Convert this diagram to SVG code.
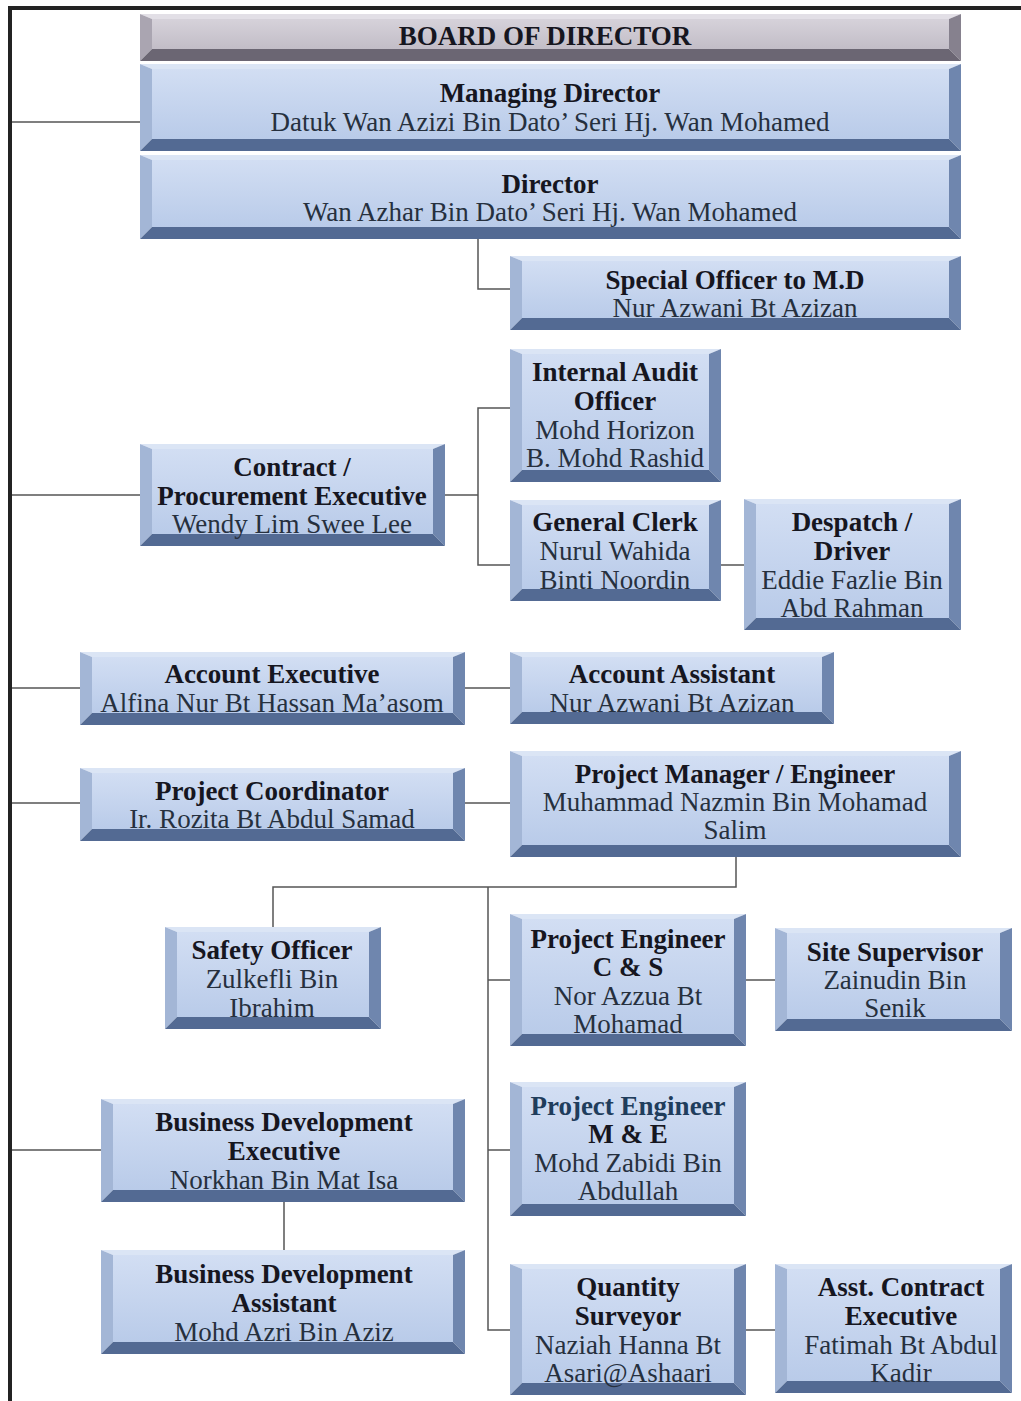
<svg xmlns="http://www.w3.org/2000/svg" width="1021" height="1401" viewBox="0 0 1021 1401">
<defs>
<linearGradient id="face" x1="0" y1="0" x2="0" y2="1">
<stop offset="0" stop-color="#d2def3"/><stop offset="1" stop-color="#b9cbe9"/>
</linearGradient>
<linearGradient id="gface" x1="0" y1="0" x2="0" y2="1">
<stop offset="0" stop-color="#d6d2da"/><stop offset="1" stop-color="#c2bdc7"/>
</linearGradient>
</defs>
<style>
.f{fill:url(#face)}
.t{fill:#dbe5f5}
.l{fill:#a3b6d6}
.r{fill:#6f86ae}
.b{fill:#536a93}
.gray .f{fill:url(#gface)}
.gray .t{fill:#e2dfe6}
.gray .l{fill:#aaa5b1}
.gray .r{fill:#86818e}
.gray .b{fill:#6b6673}
text{font-family:"Liberation Serif","Times New Roman",serif;font-size:27px;text-anchor:middle;fill:#26303e}
.h{font-weight:bold;fill:#16161f}
.h2{font-weight:bold;fill:#1f3d5c}
.conn{stroke:#555;stroke-width:1.5;fill:none}
.frame{stroke:#232323;stroke-width:4;fill:none}
</style>
<rect width="1021" height="1401" fill="#fff"/>
<path class="frame" d="M10,1401 V8 H1021"/>
<g id="connectors" class="conn">
<path d="M12,122 H140"/>
<path d="M478,239 V289 H510"/>
<path d="M12,495 H140"/>
<path d="M445,495 H478"/>
<path d="M510,408 H478 V565 H510"/>
<path d="M721,565 H744"/>
<path d="M12,688 H80"/>
<path d="M465,688 H510"/>
<path d="M12,803 H80"/>
<path d="M465,803 H510"/>
<path d="M736,857 V887 H273 V927"/>
<path d="M488,887 V1330 H510"/>
<path d="M488,980 H510"/>
<path d="M746,980 H775"/>
<path d="M488,1150 H510"/>
<path d="M746,1330 H775"/>
<path d="M12,1150 H101"/>
<path d="M284,1202 V1250"/>
</g>
<g id="board" class="gray">
<polygon class="t" points="140,14 961,14 949,19 152,19"/><polygon class="l" points="140,14 152,19 152,49 140,61"/><polygon class="r" points="961,14 961,61 949,49 949,19"/><polygon class="b" points="140,61 152,49 949,49 961,61"/><rect class="f" x="152" y="19" width="797" height="30"/>
<text class="h" x="545" y="45" font-size="24.5">BOARD OF DIRECTOR</text>
</g>
<g id="md">
<polygon class="t" points="140,64 961,64 949,69 152,69"/><polygon class="l" points="140,64 152,69 152,139 140,151"/><polygon class="r" points="961,64 961,151 949,139 949,69"/><polygon class="b" points="140,151 152,139 949,139 961,151"/><rect class="f" x="152" y="69" width="797" height="70"/>
<text class="h" x="550" y="102">Managing Director</text>
<text x="550" y="131">Datuk Wan Azizi Bin Dato’ Seri Hj. Wan Mohamed</text>
</g>
<g id="director">
<polygon class="t" points="140,155 961,155 949,160 152,160"/><polygon class="l" points="140,155 152,160 152,227 140,239"/><polygon class="r" points="961,155 961,239 949,227 949,160"/><polygon class="b" points="140,239 152,227 949,227 961,239"/><rect class="f" x="152" y="160" width="797" height="67"/>
<text class="h" x="550" y="193">Director</text>
<text x="550" y="221">Wan Azhar Bin Dato’ Seri Hj. Wan Mohamed</text>
</g>
<g id="special-officer">
<polygon class="t" points="510,256 961,256 949,261 522,261"/><polygon class="l" points="510,256 522,261 522,318 510,330"/><polygon class="r" points="961,256 961,330 949,318 949,261"/><polygon class="b" points="510,330 522,318 949,318 961,330"/><rect class="f" x="522" y="261" width="427" height="57"/>
<text class="h" x="735" y="289">Special Officer to M.D</text>
<text x="735" y="317">Nur Azwani Bt Azizan</text>
</g>
<g id="internal-audit">
<polygon class="t" points="510,349 721,349 709,354 522,354"/><polygon class="l" points="510,349 522,354 522,470 510,482"/><polygon class="r" points="721,349 721,482 709,470 709,354"/><polygon class="b" points="510,482 522,470 709,470 721,482"/><rect class="f" x="522" y="354" width="187" height="116"/>
<text class="h" x="615" y="381">Internal Audit</text>
<text class="h" x="615" y="410">Officer</text>
<text x="615" y="439">Mohd Horizon</text>
<text x="615" y="467">B. Mohd Rashid</text>
</g>
<g id="contract-procurement">
<polygon class="t" points="140,444 445,444 433,449 152,449"/><polygon class="l" points="140,444 152,449 152,534 140,546"/><polygon class="r" points="445,444 445,546 433,534 433,449"/><polygon class="b" points="140,546 152,534 433,534 445,546"/><rect class="f" x="152" y="449" width="281" height="85"/>
<text class="h" x="292" y="476">Contract /</text>
<text class="h" x="292" y="505">Procurement Executive</text>
<text x="292" y="533">Wendy Lim Swee Lee</text>
</g>
<g id="general-clerk">
<polygon class="t" points="510,500 721,500 709,505 522,505"/><polygon class="l" points="510,500 522,505 522,589 510,601"/><polygon class="r" points="721,500 721,601 709,589 709,505"/><polygon class="b" points="510,601 522,589 709,589 721,601"/><rect class="f" x="522" y="505" width="187" height="84"/>
<text class="h" x="615" y="531">General Clerk</text>
<text x="615" y="560">Nurul Wahida</text>
<text x="615" y="589">Binti Noordin</text>
</g>
<g id="despatch-driver">
<polygon class="t" points="744,499 961,499 949,504 756,504"/><polygon class="l" points="744,499 756,504 756,618 744,630"/><polygon class="r" points="961,499 961,630 949,618 949,504"/><polygon class="b" points="744,630 756,618 949,618 961,630"/><rect class="f" x="756" y="504" width="193" height="114"/>
<text class="h" x="852" y="531">Despatch /</text>
<text class="h" x="852" y="560">Driver</text>
<text x="852" y="589">Eddie Fazlie Bin</text>
<text x="852" y="617">Abd Rahman</text>
</g>
<g id="account-executive">
<polygon class="t" points="80,652 465,652 453,657 92,657"/><polygon class="l" points="80,652 92,657 92,713 80,725"/><polygon class="r" points="465,652 465,725 453,713 453,657"/><polygon class="b" points="80,725 92,713 453,713 465,725"/><rect class="f" x="92" y="657" width="361" height="56"/>
<text class="h" x="272" y="683">Account Executive</text>
<text x="272" y="712">Alfina Nur Bt Hassan Ma’asom</text>
</g>
<g id="account-assistant">
<polygon class="t" points="510,652 834,652 822,657 522,657"/><polygon class="l" points="510,652 522,657 522,712 510,724"/><polygon class="r" points="834,652 834,724 822,712 822,657"/><polygon class="b" points="510,724 522,712 822,712 834,724"/><rect class="f" x="522" y="657" width="300" height="55"/>
<text class="h" x="672" y="683">Account Assistant</text>
<text x="672" y="712">Nur Azwani Bt Azizan</text>
</g>
<g id="project-coordinator">
<polygon class="t" points="80,768 465,768 453,773 92,773"/><polygon class="l" points="80,768 92,773 92,829 80,841"/><polygon class="r" points="465,768 465,841 453,829 453,773"/><polygon class="b" points="80,841 92,829 453,829 465,841"/><rect class="f" x="92" y="773" width="361" height="56"/>
<text class="h" x="272" y="800">Project Coordinator</text>
<text x="272" y="828">Ir. Rozita Bt Abdul Samad</text>
</g>
<g id="project-manager">
<polygon class="t" points="510,751 961,751 949,756 522,756"/><polygon class="l" points="510,751 522,756 522,845 510,857"/><polygon class="r" points="961,751 961,857 949,845 949,756"/><polygon class="b" points="510,857 522,845 949,845 961,857"/><rect class="f" x="522" y="756" width="427" height="89"/>
<text class="h" x="735" y="783">Project Manager / Engineer</text>
<text x="735" y="811">Muhammad Nazmin Bin Mohamad</text>
<text x="735" y="839">Salim</text>
</g>
<g id="safety-officer">
<polygon class="t" points="165,927 381,927 369,932 177,932"/><polygon class="l" points="165,927 177,932 177,1017 165,1029"/><polygon class="r" points="381,927 381,1029 369,1017 369,932"/><polygon class="b" points="165,1029 177,1017 369,1017 381,1029"/><rect class="f" x="177" y="932" width="192" height="85"/>
<text class="h" x="272" y="959">Safety Officer</text>
<text x="272" y="988">Zulkefli  Bin</text>
<text x="272" y="1017">Ibrahim</text>
</g>
<g id="project-engineer-cs">
<polygon class="t" points="510,914 746,914 734,919 522,919"/><polygon class="l" points="510,914 522,919 522,1034 510,1046"/><polygon class="r" points="746,914 746,1046 734,1034 734,919"/><polygon class="b" points="510,1046 522,1034 734,1034 746,1046"/><rect class="f" x="522" y="919" width="212" height="115"/>
<text class="h" x="628" y="948">Project Engineer</text>
<text class="h" x="628" y="976">C &amp; S</text>
<text x="628" y="1005">Nor Azzua Bt</text>
<text x="628" y="1033">Mohamad</text>
</g>
<g id="site-supervisor">
<polygon class="t" points="775,928 1012,928 1000,933 787,933"/><polygon class="l" points="775,928 787,933 787,1019 775,1031"/><polygon class="r" points="1012,928 1012,1031 1000,1019 1000,933"/><polygon class="b" points="775,1031 787,1019 1000,1019 1012,1031"/><rect class="f" x="787" y="933" width="213" height="86"/>
<text class="h" x="895" y="961">Site Supervisor</text>
<text x="895" y="989">Zainudin Bin</text>
<text x="895" y="1017">Senik</text>
</g>
<g id="project-engineer-me">
<polygon class="t" points="510,1082 746,1082 734,1087 522,1087"/><polygon class="l" points="510,1082 522,1087 522,1204 510,1216"/><polygon class="r" points="746,1082 746,1216 734,1204 734,1087"/><polygon class="b" points="510,1216 522,1204 734,1204 746,1216"/><rect class="f" x="522" y="1087" width="212" height="117"/>
<text class="h2" x="628" y="1115">Project Engineer</text>
<text class="h" x="628" y="1143">M &amp; E</text>
<text x="628" y="1172">Mohd Zabidi  Bin</text>
<text x="628" y="1200">Abdullah</text>
</g>
<g id="business-dev-executive">
<polygon class="t" points="101,1099 465,1099 453,1104 113,1104"/><polygon class="l" points="101,1099 113,1104 113,1190 101,1202"/><polygon class="r" points="465,1099 465,1202 453,1190 453,1104"/><polygon class="b" points="101,1202 113,1190 453,1190 465,1202"/><rect class="f" x="113" y="1104" width="340" height="86"/>
<text class="h" x="284" y="1131">Business Development</text>
<text class="h" x="284" y="1160">Executive</text>
<text x="284" y="1189">Norkhan Bin Mat Isa</text>
</g>
<g id="business-dev-assistant">
<polygon class="t" points="101,1250 465,1250 453,1255 113,1255"/><polygon class="l" points="101,1250 113,1255 113,1342 101,1354"/><polygon class="r" points="465,1250 465,1354 453,1342 453,1255"/><polygon class="b" points="101,1354 113,1342 453,1342 465,1354"/><rect class="f" x="113" y="1255" width="340" height="87"/>
<text class="h" x="284" y="1283">Business Development</text>
<text class="h" x="284" y="1312">Assistant</text>
<text x="284" y="1341">Mohd Azri Bin Aziz</text>
</g>
<g id="quantity-surveyor">
<polygon class="t" points="510,1264 746,1264 734,1269 522,1269"/><polygon class="l" points="510,1264 522,1269 522,1383 510,1395"/><polygon class="r" points="746,1264 746,1395 734,1383 734,1269"/><polygon class="b" points="510,1395 522,1383 734,1383 746,1395"/><rect class="f" x="522" y="1269" width="212" height="114"/>
<text class="h" x="628" y="1296">Quantity</text>
<text class="h" x="628" y="1325">Surveyor</text>
<text x="628" y="1354">Naziah Hanna Bt</text>
<text x="628" y="1382">Asari@Ashaari</text>
</g>
<g id="asst-contract-executive">
<polygon class="t" points="775,1264 1012,1264 1000,1269 787,1269"/><polygon class="l" points="775,1264 787,1269 787,1381 775,1393"/><polygon class="r" points="1012,1264 1012,1393 1000,1381 1000,1269"/><polygon class="b" points="775,1393 787,1381 1000,1381 1012,1393"/><rect class="f" x="787" y="1269" width="213" height="112"/>
<text class="h" x="901" y="1296">Asst. Contract</text>
<text class="h" x="901" y="1325">Executive</text>
<text x="901" y="1354">Fatimah Bt Abdul</text>
<text x="901" y="1382">Kadir</text>
</g>
</svg>
